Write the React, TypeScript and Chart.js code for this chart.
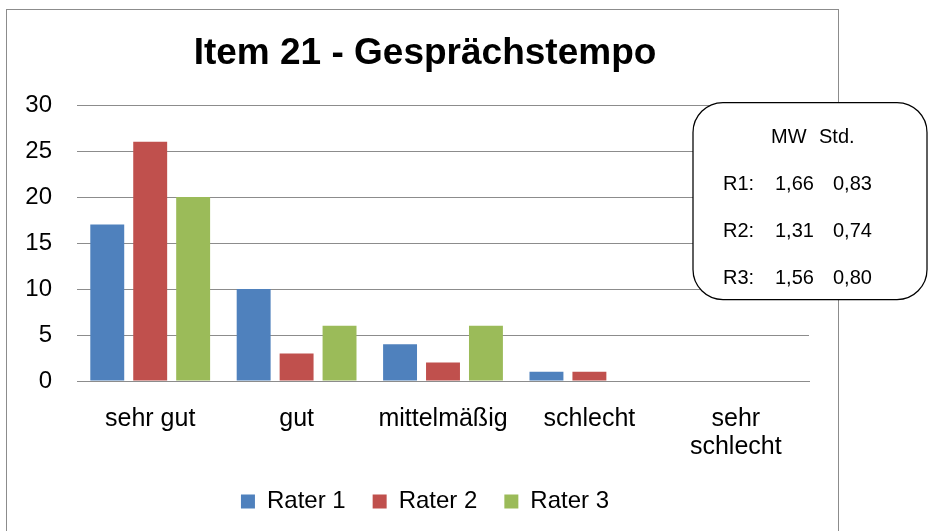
import React, { useEffect, useRef } from 'react';
import { Chart, registerables } from 'chart.js';

Chart.register(...registerables);

const titleText = 'Item 21 - Gesprächstempo';
const categories: (string | string[])[] = ['sehr gut', 'gut', 'mittelmäßig', 'schlecht', ['sehr', 'schlecht']];
const rater1 = [17, 10, 4, 1, 0];
const rater2 = [26, 3, 2, 1, 0];
const rater3 = [20, 6, 6, 0, 0];
const seriesNames = ['Rater 1', 'Rater 2', 'Rater 3'];
const seriesColors = ['#4F81BD', '#C0504D', '#9BBB59'];
const yTicks = [0, 5, 10, 15, 20, 25, 30];
const statsHeader = ['MW', 'Std.'];
const statsLabels = ['R1:', 'R2:', 'R3:'];
const statsMW = ['1,66', '1,31', '1,56'];
const statsStd = ['0,83', '0,74', '0,80'];

const FONT = "'Liberation Sans', Arial, sans-serif";

const framePlugin = {
  id: 'frame',
  beforeDraw(chart: any) {
    const ctx = chart.ctx;
    ctx.save();
    ctx.fillStyle = '#ffffff';
    ctx.fillRect(0, 0, chart.width, chart.height);
    ctx.strokeStyle = '#8C8C8C';
    ctx.lineWidth = 1;
    ctx.strokeRect(6.5, 9.5, 832, 560);
    ctx.restore();
  },
};

// Title and legend are centred over x 41..809 as in the reference
const centerBoxesPlugin = {
  id: 'centerBoxes',
  afterLayout(chart: any) {
    [chart.titleBlock, chart.legend].forEach((b: any) => {
      if (b) {
        b.left = 41;
        b.width = b.right - b.left;
      }
    });
  },
};

const statsPlugin = {
  id: 'statsBox',
  afterDraw(chart: any) {
    const ctx = chart.ctx;
    ctx.save();
    ctx.beginPath();
    ctx.roundRect(693, 102.5, 234, 197, 30);
    ctx.fillStyle = '#ffffff';
    ctx.fill();
    ctx.strokeStyle = '#000000';
    ctx.lineWidth = 1.25;
    ctx.stroke();
    ctx.fillStyle = '#000000';
    ctx.font = `20px ${FONT}`;
    ctx.textBaseline = 'middle';
    ctx.textAlign = 'left';
    ctx.fillText(statsHeader[0], 771, 137);
    ctx.fillText(statsHeader[1], 819, 137);
    statsLabels.forEach((lab, i) => {
      const y = 184 + i * 47;
      ctx.fillText(lab, 723, y);
      ctx.fillText(statsMW[i], 775, y);
      ctx.fillText(statsStd[i], 833, y);
    });
    ctx.restore();
  },
};

export default function App() {
  const ref = useRef<HTMLCanvasElement | null>(null);
  useEffect(() => {
    if (!ref.current) return;
    Chart.defaults.font.family = FONT;
    const series = [rater1, rater2, rater3];
    const chart = new Chart(ref.current, {
      type: 'bar',
      data: {
        labels: categories as any,
        datasets: series.map((d, i) => ({
          label: seriesNames[i],
          data: d,
          backgroundColor: seriesColors[i],
          borderWidth: 0,
          barPercentage: 0.79,
          categoryPercentage: 0.88,
        })),
      },
      options: {
        animation: false,
        responsive: false,
        devicePixelRatio: 1,
        layout: { padding: { left: 10, right: 120, top: 0, bottom: 7.5 } },
        plugins: {
          title: {
            display: true,
            text: titleText,
            color: '#000',
            font: { size: 37, weight: 'bold', lineHeight: 1.2 },
            padding: { top: 32, bottom: 28.6 },
          },
          legend: {
            position: 'bottom',
            labels: {
              color: '#000',
              font: { size: 24 },
              boxWidth: 14,
              boxHeight: 14,
              padding: 27,
            },
          },
          tooltip: { enabled: false },
        },
        scales: {
          x: {
            grid: { display: false },
            border: { display: true, color: '#8C8C8C', width: 1 },
            ticks: {
              color: '#000',
              font: { size: 25, lineHeight: '28px' },
              padding: 16,
              maxRotation: 0,
              autoSkip: false,
            },
            afterFit(s: any) {
              s.height = 81.5;
            },
          },
          y: {
            min: 0,
            max: 30,
            grid: { color: '#8C8C8C', drawTicks: false },
            border: { display: false },
            ticks: { stepSize: 5, color: '#000', font: { size: 24 }, padding: 25 },
            afterBuildTicks(s: any) {
              s.ticks = yTicks.map((v) => ({ value: v }));
            },
            afterFit(s: any) {
              s.width = 67;
            },
          },
        },
      } as any,
      plugins: [framePlugin, centerBoxesPlugin, statsPlugin],
    });
    return () => chart.destroy();
  }, []);
  return (
    <div style={{ position: 'absolute', left: 0, top: 0, width: 929, height: 531 }}>
      <canvas ref={ref} width={929} height={531} style={{ width: 929, height: 531, display: 'block' }} />
    </div>
  );
}
